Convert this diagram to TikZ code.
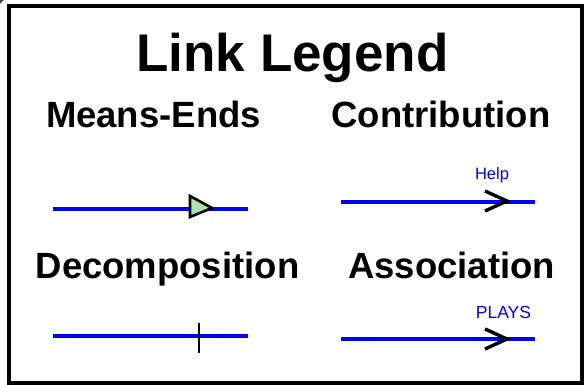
\documentclass[tikz,border=0pt]{standalone}
\usepackage{fontspec}
\setmainfont{Liberation Sans}
\begin{document}
\begin{tikzpicture}[x=1pt,y=-1pt,
  heading/.style={font=\bfseries\fontsize{36.5}{40}\selectfont, anchor=base, inner sep=0pt},
  linkline/.style={draw=blue, line width=3.6pt},
  tagtext/.style={text=blue, anchor=base, inner sep=0pt},
  tipmark/.style={draw=black, line width=3.4pt, line join=miter}
]
  \useasboundingbox (0,0) rectangle (584,385);
  \fill[white] (0,0) rectangle (584,385);
  % frame
  \fill[black!70] (0,0) -- (4,0) -- (0,4) -- cycle;
  \draw[line width=4.5pt] (9,6) rectangle (582,383);

  % title and legend headings
  \node[heading, font=\bfseries\fontsize{53}{58}\selectfont] (title) at (292.5,72) {Link Legend};
  \node[heading] (me)  at (153.5,128) {Means-Ends};
  \node[heading] (con) at (441,128) {Contribution};
  \node[heading] (dec) at (167.5,278) {Decomposition};
  \node[heading] (ass) at (451.5,278) {Association};

  % means-ends sample
  \coordinate (meA) at (53,209);
  \coordinate (meB) at (248,209);
  \draw[linkline] (meA) -- (meB);
  \draw[fill={rgb,255:red,170;green,228;blue,170}, line width=2.6pt, line join=miter]
    (190,196) -- (212,208) -- (190,217) -- cycle;

  % contribution sample
  \coordinate (coA) at (341,202);
  \coordinate (coB) at (535,202);
  \draw[linkline] (coA) -- (coB);
  \draw[tipmark] (485,191) -- (507,201) -- (485,211);
  \node[tagtext, font=\fontsize{16.5}{18}\selectfont] (help) at (492,179) {Help};

  % decomposition sample
  \coordinate (deA) at (53,336);
  \coordinate (deB) at (248,336);
  \draw[linkline] (deA) -- (deB);
  \coordinate (tickT) at (199,323);
  \coordinate (tickB) at (199,353);
  \draw[line width=2.8pt] (tickT) -- (tickB);

  % association sample
  \coordinate (asA) at (341,339);
  \coordinate (asB) at (535,339);
  \draw[linkline] (asA) -- (asB);
  \draw[tipmark] (485,329) -- (507,339) -- (485,349);
  \node[tagtext, font=\fontsize{17.5}{20}\selectfont] (plays) at (503.5,318) {PLAYS};
\end{tikzpicture}
\end{document}
